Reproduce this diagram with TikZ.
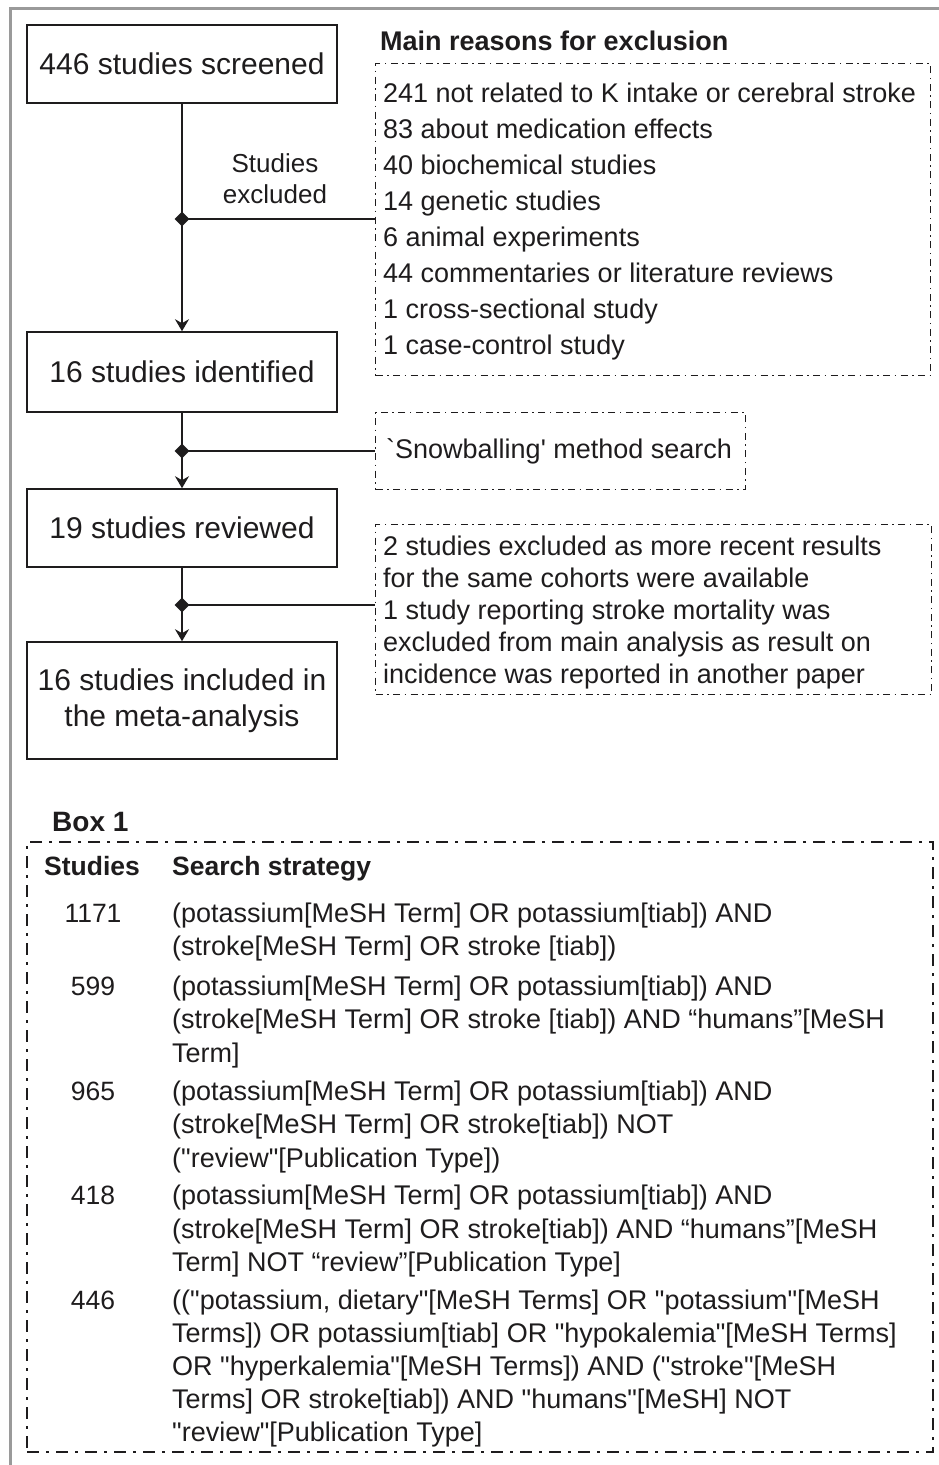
\documentclass[tikz,border=0pt]{standalone}
\usepackage{fontspec}
\newfontfamily\arial{Liberation Sans}
\usetikzlibrary{shapes.geometric,arrows.meta}
\definecolor{ink}{HTML}{1E1C1D}
\definecolor{framegray}{HTML}{9A9A9A}
\begin{document}
\begin{tikzpicture}[x=1pt,y=-1pt,
  every node/.style={text=ink, inner sep=0pt},
  mainbox/.style={draw=ink, line width=1.6pt, minimum width=310pt, align=center,
    font=\arial\fontsize{30}{36}\selectfont},
  listtext/.style={anchor=base west, font=\arial\fontsize{27}{36}\selectfont},
  headtext/.style={anchor=base west, font=\arial\bfseries\fontsize{27}{36}\selectfont},
  lbltext/.style={anchor=base, font=\arial\fontsize{26}{32}\selectfont},
  boxtext/.style={anchor=base west, font=\arial\fontsize{27}{33}\selectfont},
  boxnum/.style={anchor=base, font=\arial\fontsize{26.5}{33}\selectfont},
  boxhead/.style={anchor=base west, font=\arial\bfseries\fontsize{26.5}{33}\selectfont},
  smalldd/.style={draw=ink, line width=1.3pt, dash pattern=on 7pt off 4.5pt on 1.5pt off 4.5pt},
  bigdd/.style={draw=ink, line width=2pt, dash pattern=on 12pt off 7pt on 3pt off 7pt},
  conn/.style={draw=ink, line width=1.7pt},
  arr/.style={conn, -{Stealth[length=12pt,width=14pt,inset=4pt]}},
  junct/.style={diamond, fill=ink, minimum width=15pt, minimum height=15pt, inner sep=0pt}
]
\useasboundingbox (0,0) rectangle (938,1465);
% outer frame
\draw[framegray, line width=3pt] (10.5,1466) -- (10.5,8.5) -- (939,8.5);

% main flow boxes
\node[mainbox, minimum height=78pt] (screened) at (182,64) {446 studies screened};
\node[mainbox, minimum height=80pt] (identified) at (182,372) {16 studies identified};
\node[mainbox, minimum height=78pt] (reviewed) at (182,528) {19 studies reviewed};
\node[mainbox, minimum height=117pt] (included) at (182,700.5) {16 studies included in\\the meta-analysis};

% dash-dot boxes
\node[smalldd, minimum width=555pt, minimum height=312pt, anchor=north west] (excl) at (375,63) {};
\node[smalldd, minimum width=370pt, minimum height=77pt, anchor=north west] (snow) at (375,412) {};
\node[smalldd, minimum width=556pt, minimum height=170pt, anchor=north west] (later) at (375,524) {};

% junction points
\coordinate (j1) at (182,219);
\coordinate (j2) at (182,451);
\coordinate (j3) at (182,605);

% connectors
\draw[arr] (screened.south) -- (identified.north);
\draw[arr] (identified.south) -- (reviewed.north);
\draw[arr] (reviewed.south) -- (included.north);
\draw[conn] (j1) -- (j1 -| excl.west);
\draw[conn] (j2) -- (j2 -| snow.west);
\draw[conn] (j3) -- (j3 -| later.west);
\node[junct] (dm1) at (j1) {};
\node[junct] (dm2) at (j2) {};
\node[junct] (dm3) at (j3) {};

% label on first branch
\node[lbltext] (lblA) at (275,172) {Studies};
\node[lbltext] (lblB) at (275,203) {excluded};

% exclusion reasons
\node[headtext] (mainhead) at (380,50) {Main reasons for exclusion};
\node[listtext] (e1) at (383,102) {241 not related to K intake or cerebral stroke};
\node[listtext] (e2) at (383,138) {83 about medication effects};
\node[listtext] (e3) at (383,174) {40 biochemical studies};
\node[listtext] (e4) at (383,210) {14 genetic studies};
\node[listtext] (e5) at (383,246) {6 animal experiments};
\node[listtext] (e6) at (383,282) {44 commentaries or literature reviews};
\node[listtext] (e7) at (383,318) {1 cross-sectional study};
\node[listtext] (e8) at (383,354) {1 case-control study};

% snowballing
\node[listtext] (s1) at (386,458) {`Snowballing' method search};

% later exclusions
\node[listtext] (l1) at (383,555) {2 studies excluded as more recent results};
\node[listtext] (l2) at (383,587) {for the same cohorts were available};
\node[listtext] (l3) at (383,619) {1 study reporting stroke mortality was};
\node[listtext] (l4) at (383,651) {excluded from main analysis as result on};
\node[listtext] (l5) at (383,683) {incidence was reported in another paper};

% Box 1
\node[anchor=base west, font=\arial\bfseries\fontsize{28}{33}\selectfont] (boxlbl) at (52,831) {Box 1};
\node[bigdd, minimum width=906pt, minimum height=610pt, anchor=north west] (box1) at (26,841) {};
\node[boxhead] (h1) at (44,875) {Studies};
\node[boxhead] (h2) at (172,875) {Search strategy};

\node[boxnum] (n1) at (93,922) {1171};
\node[boxtext] (t1a) at (172,922) {(potassium[MeSH Term] OR potassium[tiab]) AND};
\node[boxtext] (t1b) at (172,955.5) {(stroke[MeSH Term] OR stroke [tiab])};

\node[boxnum] (n2) at (93,995) {599};
\node[boxtext] (t2a) at (172,995) {(potassium[MeSH Term] OR potassium[tiab]) AND};
\node[boxtext] (t2b) at (172,1028.5) {(stroke[MeSH Term] OR stroke [tiab]) AND “humans”[MeSH};
\node[boxtext] (t2c) at (172,1062) {Term]};

\node[boxnum] (n3) at (93,1100) {965};
\node[boxtext] (t3a) at (172,1100) {(potassium[MeSH Term] OR potassium[tiab]) AND};
\node[boxtext] (t3b) at (172,1133.5) {(stroke[MeSH Term] OR stroke[tiab]) NOT};
\node[boxtext] (t3c) at (172,1167) {("review"[Publication Type])};

\node[boxnum] (n4) at (93,1204.5) {418};
\node[boxtext] (t4a) at (172,1204.5) {(potassium[MeSH Term] OR potassium[tiab]) AND};
\node[boxtext] (t4b) at (172,1238) {(stroke[MeSH Term] OR stroke[tiab]) AND “humans”[MeSH};
\node[boxtext] (t4c) at (172,1271.5) {Term] NOT “review”[Publication Type]};

\node[boxnum] (n5) at (93,1309) {446};
\node[boxtext] (t5a) at (172,1309) {(("potassium, dietary"[MeSH Terms] OR "potassium"[MeSH};
\node[boxtext] (t5b) at (172,1342) {Terms]) OR potassium[tiab] OR "hypokalemia"[MeSH Terms]};
\node[boxtext] (t5c) at (172,1375) {OR "hyperkalemia"[MeSH Terms]) AND ("stroke"[MeSH};
\node[boxtext] (t5d) at (172,1408) {Terms] OR stroke[tiab]) AND "humans"[MeSH] NOT};
\node[boxtext] (t5e) at (172,1441) {"review"[Publication Type]};
\end{tikzpicture}
\end{document}
